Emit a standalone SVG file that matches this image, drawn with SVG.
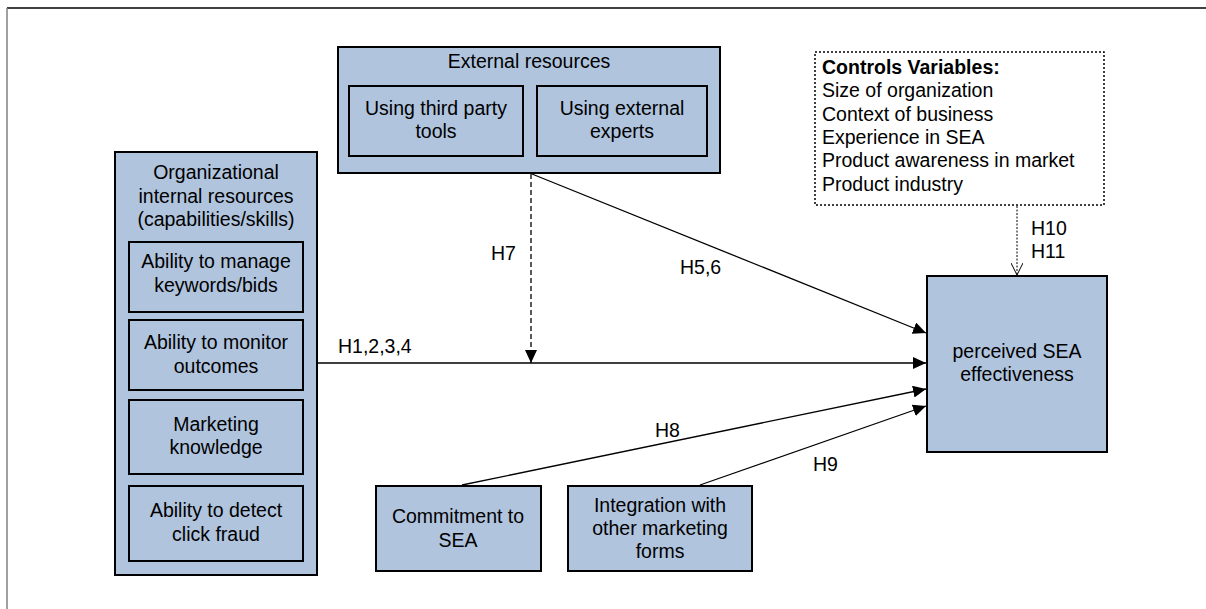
<svg xmlns="http://www.w3.org/2000/svg" width="1206" height="609" viewBox="0 0 1206 609">
<style>
text{font-family:"Liberation Sans",Arial,sans-serif;font-size:19.5px;fill:#000}
.c{text-anchor:middle}
.box{fill:#b0c4de;stroke:#000;stroke-width:2}
.ln{stroke:#000;stroke-width:1.3;fill:none}
</style>
<defs>
<marker id="ah" markerWidth="14" markerHeight="12" refX="13" refY="6" orient="auto" markerUnits="userSpaceOnUse">
<path d="M0,0 L13,6 L0,12 z" fill="#000"/>
</marker>
<marker id="ao" markerWidth="14" markerHeight="12" refX="12" refY="6" orient="auto" markerUnits="userSpaceOnUse">
<path d="M0,0 L12,6 L0,12" fill="none" stroke="#000" stroke-width="1"/>
</marker>
</defs>
<rect width="1206" height="609" fill="#fff"/>
<line x1="7" y1="8" x2="1206" y2="8" stroke="#000" stroke-width="1.5"/>
<line x1="7" y1="8" x2="7" y2="609" stroke="#808080" stroke-width="1.5"/>

<g id="external">
<rect class="box" x="338" y="47" width="382" height="126"/>
<text class="c" x="529" y="68">External resources</text>
<g id="third-party">
<rect class="box" x="349" y="86" width="174" height="70"/>
<text class="c" x="436" y="115">Using third party</text>
<text class="c" x="436" y="138">tools</text>
</g>
<g id="experts">
<rect class="box" x="537" y="86" width="170" height="70"/>
<text class="c" x="622" y="115">Using external</text>
<text class="c" x="622" y="138">experts</text>
</g>
</g>

<g id="controls">
<rect x="815" y="52" width="289" height="153" fill="#fff" stroke="#000" stroke-width="1.5" stroke-dasharray="2,2"/>
<text x="822" y="74" font-weight="bold">Controls Variables:</text>
<text x="822" y="97">Size of organization</text>
<text x="822" y="120.5">Context of business</text>
<text x="822" y="144">Experience in SEA</text>
<text x="822" y="167">Product awareness in market</text>
<text x="822" y="190.5">Product industry</text>
</g>

<g id="internal">
<rect class="box" x="115" y="152" width="202" height="423"/>
<text class="c" x="216" y="179">Organizational</text>
<text class="c" x="216" y="203">internal resources</text>
<text class="c" x="216" y="226">(capabilities/skills)</text>
<g id="keywords">
<rect class="box" x="129" y="242" width="174" height="70"/>
<text class="c" x="216" y="268">Ability to manage</text>
<text class="c" x="216" y="292">keywords/bids</text>
</g>
<g id="monitor">
<rect class="box" x="129" y="320" width="174" height="70"/>
<text class="c" x="216" y="349">Ability to monitor</text>
<text class="c" x="216" y="373">outcomes</text>
</g>
<g id="marketing">
<rect class="box" x="129" y="400" width="174" height="74"/>
<text class="c" x="216" y="431">Marketing</text>
<text class="c" x="216" y="454">knowledge</text>
</g>
<g id="fraud">
<rect class="box" x="129" y="486" width="174" height="75"/>
<text class="c" x="216" y="517">Ability to detect</text>
<text class="c" x="216" y="541">click fraud</text>
</g>
</g>

<g id="commitment">
<rect class="box" x="376" y="486" width="165" height="85"/>
<text class="c" x="458" y="523">Commitment to</text>
<text class="c" x="458" y="547">SEA</text>
</g>

<g id="integration">
<rect class="box" x="568" y="486" width="184" height="85"/>
<text class="c" x="660" y="512">Integration with</text>
<text class="c" x="660" y="535">other marketing</text>
<text class="c" x="660" y="558">forms</text>
</g>

<g id="effectiveness">
<rect class="box" x="927" y="276" width="180" height="176"/>
<text class="c" x="1017" y="358">perceived SEA</text>
<text class="c" x="1017" y="381">effectiveness</text>
</g>

<g id="connectors">
<line class="ln" x1="532" y1="174" x2="926" y2="333" marker-end="url(#ah)"/>
<line class="ln" x1="317" y1="363" x2="926" y2="363" marker-end="url(#ah)"/>
<line class="ln" x1="531" y1="174" x2="531" y2="363" stroke-dasharray="5,3" marker-end="url(#ah)"/>
<line class="ln" x1="462" y1="485" x2="926" y2="389" marker-end="url(#ah)"/>
<line class="ln" x1="700" y1="485" x2="926" y2="406" marker-end="url(#ah)"/>
<line x1="1017" y1="206" x2="1017" y2="275" stroke="#000" stroke-width="1" stroke-dasharray="2,1.5" marker-end="url(#ao)"/>
<text x="491" y="260">H7</text>
<text x="680" y="274">H5,6</text>
<text x="338" y="353">H1,2,3,4</text>
<text x="655" y="437">H8</text>
<text x="813" y="471">H9</text>
<text x="1031" y="235">H10</text>
<text x="1031" y="258">H11</text>
</g>
</svg>
